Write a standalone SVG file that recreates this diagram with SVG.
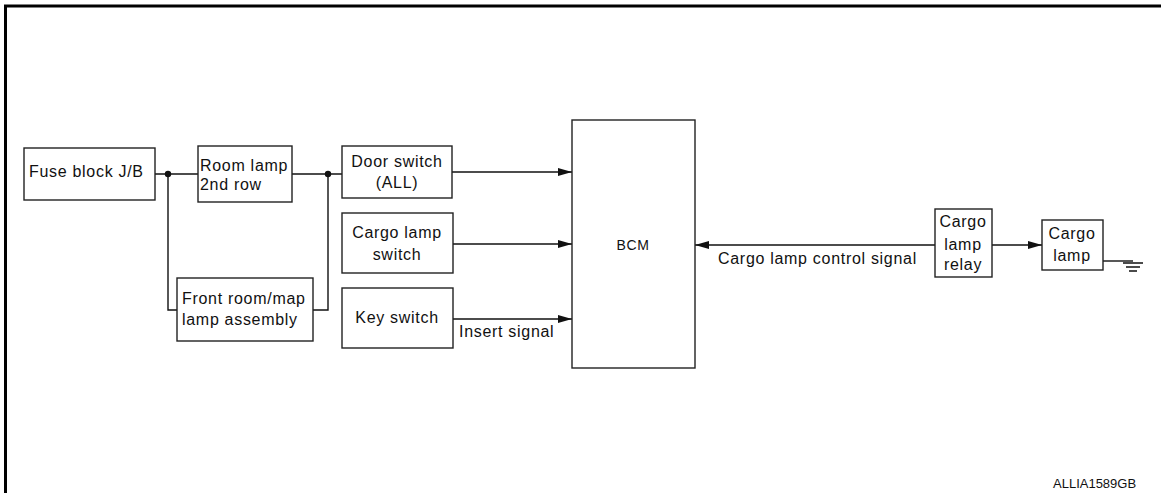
<svg xmlns="http://www.w3.org/2000/svg" width="1161" height="493" viewBox="0 0 1161 493">
<style>
.box{fill:#fff;stroke:#222;stroke-width:1.4}
.w{fill:none;stroke:#111;stroke-width:1.4}
text{font-family:"Liberation Sans",Arial,sans-serif;font-size:16px;fill:#111;letter-spacing:0.7px}
.c{text-anchor:middle}
</style>
<defs>
<marker id="ah" viewBox="0 0 14 8" refX="14" refY="4" markerWidth="14" markerHeight="8" markerUnits="userSpaceOnUse" orient="auto">
<path d="M0,0 L14,4 L0,8 Z" fill="#111"/>
</marker>
</defs>
<rect width="1161" height="493" fill="#fff"/>
<path d="M5.5,493 V6 H1161" fill="none" stroke="#000" stroke-width="3"/>
<g id="connectors">
<path class="w" d="M155,174 H198"/>
<path class="w" d="M168,174 V310 H177"/>
<path class="w" d="M292,174 H342"/>
<path class="w" d="M313,310 H328 V174"/>
<circle cx="168" cy="174" r="3.2" fill="#111"/>
<circle cx="328" cy="174" r="3.2" fill="#111"/>
<path class="w" d="M452,172 H572" marker-end="url(#ah)"/>
<path class="w" d="M453,244 H572" marker-end="url(#ah)"/>
<path class="w" d="M453,319 H572" marker-end="url(#ah)"/>
<text x="459" y="337">Insert signal</text>
<path class="w" d="M935,245 H695" marker-end="url(#ah)"/>
<text x="718" y="264">Cargo lamp control signal</text>
<path class="w" d="M992,245 H1042" marker-end="url(#ah)"/>
<path class="w" d="M1103,261 H1133"/>
<path class="w" d="M1123,263 H1143 M1126,267 H1140 M1129,271 H1137"/>
</g>
<g id="fuse"><rect class="box" x="24" y="148" width="131" height="52"/><text x="29" y="177">Fuse block J/B</text></g>
<g id="roomlamp"><rect class="box" x="198" y="146" width="94" height="56"/><text x="200" y="171">Room lamp</text><text x="200" y="190">2nd row</text></g>
<g id="frontroom"><rect class="box" x="177" y="278" width="136" height="63"/><text x="182" y="304">Front room/map</text><text x="182" y="325">lamp assembly</text></g>
<g id="door"><rect class="box" x="342" y="146" width="110" height="52"/><text class="c" x="397" y="167">Door switch</text><text class="c" x="397" y="188">(ALL)</text></g>
<g id="cargosw"><rect class="box" x="342" y="213" width="111" height="60"/><text class="c" x="397" y="238">Cargo lamp</text><text class="c" x="397" y="260">switch</text></g>
<g id="key"><rect class="box" x="342" y="288" width="111" height="60"/><text class="c" x="397" y="323">Key switch</text></g>
<g id="bcm"><rect class="box" x="572" y="120" width="123" height="248"/><text class="c" x="633" y="250" style="font-size:14px">BCM</text></g>
<g id="relay"><rect class="box" x="935" y="209" width="57" height="68"/><text class="c" x="963" y="227">Cargo</text><text class="c" x="963" y="250">lamp</text><text class="c" x="963" y="270">relay</text></g>
<g id="cargolamp"><rect class="box" x="1042" y="220" width="61" height="50"/><text class="c" x="1072" y="239">Cargo</text><text class="c" x="1072" y="261">lamp</text></g>
<text x="1053" y="488" style="font-size:13px;letter-spacing:0">ALLIA1589GB</text>
</svg>
